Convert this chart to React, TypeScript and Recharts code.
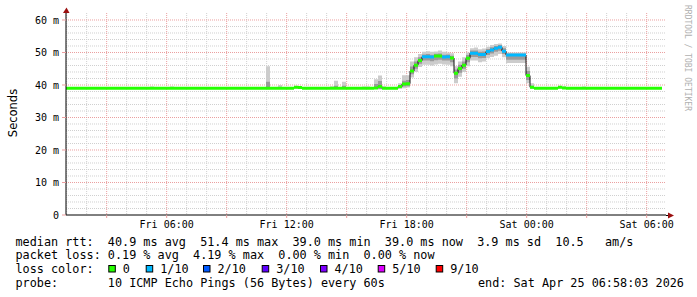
import React from 'react';
import {
  ComposedChart,
  Area,
  Line,
  XAxis,
  YAxis,
  CartesianGrid,
  ReferenceDot,
} from 'recharts';

// time axis: hours since Fri 00:00; graph covers Fri 00:58 .. Sat 06:58
const START = 0.967;
const STEP = 0.2; // one consolidated point = 12 minutes
const END = START + 30;
const Y_MAX = 62.15;

const timeTicks = [3, 6, 9, 12, 15, 18, 21, 24, 27, 30];
const timeLabels: Record<number, string> = {
  6: 'Fri 06:00',
  12: 'Fri 12:00',
  18: 'Fri 18:00',
  24: 'Sat 00:00',
  30: 'Sat 06:00',
};
const valueTicks = [0, 10, 20, 30, 40, 50, 60];
const valueLabels = ['0', '10 m', '20 m', '30 m', '40 m', '50 m', '60 m'];

const minorHours = [1, 2, 4, 5, 7, 8, 10, 11, 13, 14, 16, 17, 19, 20, 22, 23, 25, 26, 28, 29];
const majorHours = [3, 6, 9, 12, 15, 18, 21, 24, 27, 30];
const minorValues = [2, 4, 6, 8, 12, 14, 16, 18, 22, 24, 26, 28, 32, 34, 36, 38, 42, 44, 46, 48, 52, 54, 56, 58];
const majorValues = [10, 20, 30, 40, 50, 60];

// median rtt (ms) per 12-minute point
const median = [
  39, 39, 39, 39, 39, 39, 39, 39, 39, 39,
  39, 39, 39, 39, 39, 39, 39, 39, 39, 39,
  39, 39, 39, 39, 39, 39, 39, 39, 39, 39,
  39, 39, 39, 39, 39, 39, 39, 39, 39, 39,
  39, 39, 39, 39, 39, 39, 39, 39, 39, 39,
  39, 39, 39, 39, 39, 39, 39, 39.3, 39.2, 39,
  39, 39, 39, 39, 39, 39, 39, 39, 39, 39,
  39, 39, 39, 39, 39, 39, 39, 39.1, 39.5, 39,
  39, 39, 39, 39.5, 40.3, 40.4, 44.3, 46.1, 47.5, 48.7,
  48.7, 48.6, 48.9, 48.9, 48.6, 48.7, 48.3, 43.6, 45.1, 46.1,
  48.2, 49.8, 49.8, 49.4, 49.4, 50.3, 50.8, 51.3, 51.6, 50.4,
  49.2, 49.2, 49.2, 49.2, 49.2, 42.9, 39.3, 39, 39, 39,
  39, 39, 39, 39.3, 39.1, 39, 39, 39, 39, 39,
  39, 39, 39, 39, 39, 39, 39, 39, 39, 39,
  39, 39, 39, 39, 39, 39, 39, 39, 39,
];

// lost pings out of 10 per point
const loss = [
  0, 0, 0, 0, 0, 0, 0, 0, 0, 0,
  0, 0, 0, 0, 0, 0, 0, 0, 0, 0,
  0, 0, 0, 0, 0, 0, 0, 0, 0, 0,
  0, 0, 0, 0, 0, 0, 0, 0, 0, 0,
  0, 0, 0, 0, 0, 0, 0, 0, 0, 0,
  0, 0, 0, 0, 0, 0, 0, 0, 0, 0,
  0, 0, 0, 0, 0, 0, 0, 0, 0, 0,
  0, 0, 0, 0, 0, 0, 0, 0, 0, 0,
  0, 0, 0, 0, 0, 0, 0, 0, 0, 1,
  1, 1, 0, 0, 1, 1, 0, 0, 0, 0,
  0, 1, 1, 1, 1, 1, 1, 1, 1, 1,
  1, 1, 1, 1, 1, 0, 0, 0, 0, 0,
  0, 0, 0, 0, 0, 0, 0, 0, 0, 0,
  0, 0, 0, 0, 0, 0, 0, 0, 0, 0,
  0, 0, 0, 0, 0, 0, 0, 0, 0,
];

// smoke: spread of the individual pings (outer range)
const smokeLo = [
  39, 39, 39, 39, 39, 39, 39, 39, 39, 39,
  39, 39, 39, 39, 39, 39, 39, 39, 39, 39,
  39, 39, 39, 39, 39, 39, 39, 39, 39, 39,
  39, 39, 39, 39, 39, 39, 39, 39, 39, 39,
  39, 39, 39, 39, 39, 39, 39, 39, 39, 39,
  38.7, 39, 39, 39, 39, 39, 39, 39, 39, 39,
  39, 39, 39, 39, 39, 39, 39, 39, 39, 39,
  39, 39, 39, 39, 39, 39, 39, 39, 38.6, 39,
  39, 39, 39, 38.8, 39, 39.2, 42.3, 44, 45.5, 46.2,
  46.2, 46, 46.3, 46.5, 46.3, 46.2, 45.8, 40.5, 42.5, 44,
  45.8, 47.5, 47.5, 47, 47.2, 48.2, 48.6, 49, 49.5, 48.5,
  46.8, 46.8, 46.8, 46.8, 46.8, 40.5, 38.8, 39, 39, 39,
  39, 39, 39, 39, 39, 39, 39, 39, 39, 39,
  39, 39, 39, 39, 39, 39, 39, 39, 39, 39,
  39, 39, 39, 39, 39, 39, 39, 39, 39,
];
const smokeHi = [
  39, 39, 39, 39, 39, 39, 39, 39, 39, 39,
  39, 39, 39, 39, 39, 39, 39, 39, 39, 39,
  39, 39.5, 39, 39, 39, 39, 39.5, 39, 39, 39,
  39, 39, 39, 39, 39, 39, 39, 39, 39, 39,
  39, 39, 39, 39, 39, 39, 39, 39, 39, 39,
  45.8, 39, 39, 40, 39, 39, 39, 39.7, 39.7, 39,
  39, 39, 39, 39, 39, 39, 39.6, 41.3, 39, 41,
  39, 39, 39, 39, 39.5, 39.5, 39, 41.8, 42.9, 39.6,
  39, 39, 39.4, 40.5, 43, 43, 47.2, 48.5, 49.5, 50.2,
  50.4, 50.2, 50.3, 50.6, 50.2, 50, 49.8, 45.8, 47.2, 48.5,
  50, 51.3, 51.5, 51, 51.2, 51.8, 52.3, 52.6, 52.8, 52,
  50, 50, 50, 50, 50, 45.6, 40.5, 39, 39, 39,
  39, 39, 39, 39.6, 39.6, 39, 39, 39, 39, 39.5,
  39, 39, 39.4, 39, 39, 39, 39, 39, 39, 39,
  39.4, 39.4, 39, 39, 39, 39, 39, 39, 39,
];

// denser core of the ping spread
const coreLo = [
  39, 39, 39, 39, 39, 39, 39, 39, 39, 39,
  39, 39, 39, 39, 39, 39, 39, 39, 39, 39,
  39, 39, 39, 39, 39, 39, 39, 39, 39, 39,
  39, 39, 39, 39, 39, 39, 39, 39, 39, 39,
  39, 39, 39, 39, 39, 39, 39, 39, 39, 39,
  38.9, 39, 39, 39, 39, 39, 39, 39, 39, 39,
  39, 39, 39, 39, 39, 39, 39, 39, 39, 39,
  39, 39, 39, 39, 39, 39, 39, 39, 38.8, 39,
  39, 39, 39, 39.1, 39.5, 39.6, 43.3, 45, 46.5, 47.5,
  47.5, 47.3, 47.6, 47.8, 47.5, 47.5, 47, 42, 43.8, 45,
  47, 48.6, 48.6, 48.2, 48.3, 49.2, 49.7, 50.2, 50.5, 49.5,
  47.8, 47.8, 47.8, 47.8, 47.8, 41.5, 39, 39, 39, 39,
  39, 39, 39, 39, 39, 39, 39, 39, 39, 39,
  39, 39, 39, 39, 39, 39, 39, 39, 39, 39,
  39, 39, 39, 39, 39, 39, 39, 39, 39,
];
const coreHi = [
  39, 39, 39, 39, 39, 39, 39, 39, 39, 39,
  39, 39, 39, 39, 39, 39, 39, 39, 39, 39,
  39, 39, 39, 39, 39, 39, 39, 39, 39, 39,
  39, 39, 39, 39, 39, 39, 39, 39, 39, 39,
  39, 39, 39, 39, 39, 39, 39, 39, 39, 39,
  41, 39, 39, 39, 39, 39, 39, 39.3, 39.2, 39,
  39, 39, 39, 39, 39, 39, 39, 39.8, 39, 39.8,
  39, 39, 39, 39, 39, 39, 39, 40.3, 41.2, 39,
  39, 39, 39, 39.9, 41.3, 41.5, 45.7, 47.2, 48.5, 49.4,
  49.5, 49.3, 49.6, 49.7, 49.3, 49.4, 49, 44.8, 46.2, 47.2,
  49.2, 50.6, 50.6, 50.2, 50.3, 51.1, 51.6, 52, 52.3, 51.3,
  49.6, 49.6, 49.6, 49.6, 49.6, 44.3, 39.8, 39, 39, 39,
  39, 39, 39, 39.3, 39, 39, 39, 39, 39, 39,
  39, 39, 39, 39, 39, 39, 39, 39, 39, 39,
  39, 39, 39, 39, 39, 39, 39, 39, 39,
];

const lossColors = [
  { label: '0', color: '#26ff00' },
  { label: '1/10', color: '#00b8ff' },
  { label: '2/10', color: '#0059ff' },
  { label: '3/10', color: '#5e00ff' },
  { label: '4/10', color: '#7e00ff' },
  { label: '5/10', color: '#dd00ff' },
  { label: '9/10', color: '#ff0000' },
];
const legendBoxX = [108.3, 145.7, 203, 261.7, 320, 377.7, 435.7];

const legendLines = [
  'median rtt:  40.9 ms avg  51.4 ms max  39.0 ms min  39.0 ms now  3.9 ms sd  10.5   am/s',
  'packet loss: 0.19 % avg  4.19 % max  0.00 % min  0.00 % now',
];
const probeText = 'probe:       10 ICMP Echo Pings (56 Bytes) every 60s';
const endText = 'end: Sat Apr 25 06:58:03 2026';

const HALF = 0.46; // half thickness of the loss-coloured median band

const rows = median.map((m, i) => ({
  t: START + i * STEP,
  smoke: [smokeLo[i], smokeHi[i]],
  core: [coreLo[i], coreHi[i]],
  median: m,
  ok: loss[i] === 0 ? [m - HALF, m + HALF] : [m, m],
  lossy: loss[i] === 1 ? [m - HALF, m + HALF] : [m, m],
}));
// closing point so the last step has width
const data = [...rows, { ...rows[rows.length - 1], t: START + rows.length * STEP }];

const MONO = 'DejaVu Sans Mono';
const nb = (s: string) => s.replace(/ /g, '\u00a0');

const RightArrow = (p: any) => (
  <g>
    <line x1={p.cx} y1={p.cy + 0.5} x2={p.cx + 3} y2={p.cy + 0.5} stroke="#000" />
    <path d={`M${p.cx + 2},${p.cy - 2.5} L${p.cx + 8},${p.cy + 0.5} L${p.cx + 2},${p.cy + 3.5} Z`} fill="#9b1010" />
  </g>
);
const TopArrow = (p: any) => (
  <g>
    <path d={`M${p.cx - 3},${p.cy} L${p.cx + 0.5},${p.cy - 5.5} L${p.cx + 3.5},${p.cy} Z`} fill="#9b1010" />
  </g>
);

export default function App() {
  return (
    <div style={{ position: 'absolute', left: 0, top: 0, width: 697, height: 297, background: '#fff' }}>
      <ComposedChart width={697} height={297} data={data} margin={{ top: 13, right: 31, bottom: 52, left: 0 }}>
        <CartesianGrid
          horizontalValues={minorValues}
          verticalValues={minorHours}
          stroke="#d0d0d0"
          strokeDasharray="1 1"
        />
        <CartesianGrid
          horizontalValues={majorValues}
          verticalValues={majorHours}
          stroke="#eb9f9f"
          strokeDasharray="1 1"
        />
        <XAxis
          dataKey="t"
          type="number"
          domain={[START, END]}
          allowDataOverflow
          ticks={timeTicks}
          interval={0}
          tickFormatter={(v: number) => timeLabels[v] ?? ''}
          height={30}
          tickSize={3}
          tickMargin={3}
          tickLine={{ stroke: '#eb9f9f' }}
          axisLine={{ stroke: '#000' }}
          tick={{ fontFamily: MONO, fontSize: 10, fill: '#000' }}
        />
        <YAxis
          type="number"
          domain={[0, Y_MAX]}
          allowDataOverflow
          ticks={valueTicks}
          interval={0}
          tickFormatter={(v: number) => valueLabels[valueTicks.indexOf(v)]}
          width={66}
          tickSize={4}
          tickMargin={3}
          tickLine={{ stroke: '#eb9f9f' }}
          axisLine={{ stroke: '#000' }}
          tick={{ fontFamily: MONO, fontSize: 10, fill: '#000' }}
        />
        <Area dataKey="smoke" type="stepAfter" stroke="none" fill="#cccccc" fillOpacity={1} isAnimationActive={false} dot={false} activeDot={false} zIndex={100} />
        <Area dataKey="core" type="stepAfter" stroke="none" fill="#9a9a9a" fillOpacity={1} isAnimationActive={false} dot={false} activeDot={false} zIndex={110} />
        <Line dataKey="median" type="stepAfter" stroke="#111" strokeWidth={1} dot={false} activeDot={false} isAnimationActive={false} zIndex={120} />
        <Area dataKey="ok" type="stepAfter" stroke="none" fill="#26ff00" fillOpacity={1} isAnimationActive={false} dot={false} activeDot={false} zIndex={130} />
        <Area dataKey="lossy" type="stepAfter" stroke="none" fill="#00b8ff" fillOpacity={1} isAnimationActive={false} dot={false} activeDot={false} zIndex={140} />
        <ReferenceDot x={END} y={0} ifOverflow="visible" shape={RightArrow} />
        <ReferenceDot x={START} y={Y_MAX} ifOverflow="visible" shape={TopArrow} />
      </ComposedChart>
      <svg
        width={697}
        height={297}
        style={{ position: 'absolute', left: 0, top: 0, pointerEvents: 'none' }}
      >
        <text
          transform="translate(16.5,113) rotate(-90)"
          textAnchor="middle"
          fontFamily="DejaVu Sans"
          fontSize={11.5}
          fill="#000"
        >
          Seconds
        </text>
        <text
          transform="translate(684.5,5) rotate(90)"
          fontFamily={MONO}
          fontSize={8}
          fill="#b0b0b0"
        >
          {nb('RRDTOOL / TOBI OETIKER')}
        </text>
        <g fontFamily={MONO} fontSize={11.8} fill="#000">
          <text x={15.5} y={245.5}>{nb(legendLines[0])}</text>
          <text x={15.5} y={259.2}>{nb(legendLines[1])}</text>
          <text x={15.5} y={272.8}>{nb('loss color:')}</text>
          {lossColors.map((c, i) => (
            <g key={c.label}>
              <rect x={legendBoxX[i] + 0.5} y={265.5} width={6.5} height={6.5} fill={c.color} stroke="#000" strokeWidth={1} />
              <text x={legendBoxX[i] + 14.5} y={272.8}>{c.label}</text>
            </g>
          ))}
          <text x={15.5} y={286.5}>{nb(probeText)}</text>
          <text x={478} y={286.5}>{nb(endText)}</text>
        </g>
      </svg>
    </div>
  );
}
